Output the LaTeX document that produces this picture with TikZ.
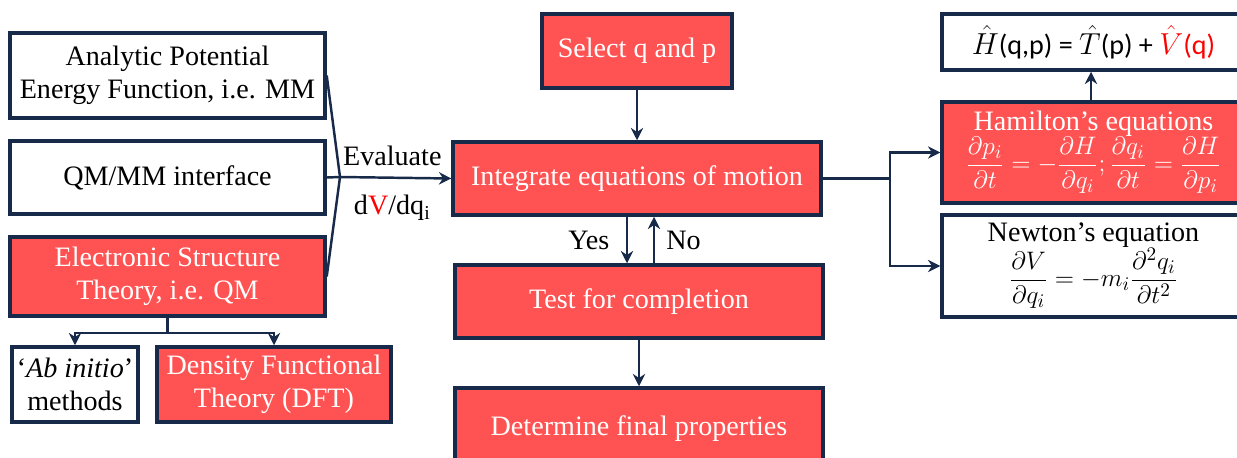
\documentclass[tikz,border=0pt]{standalone}
\usepackage{amsmath}
\usepackage{fontspec}
\setmainfont{Liberation Serif}
\usetikzlibrary{arrows.meta}
\newfontfamily\calfont{Carlito}
\definecolor{boxred}{RGB}{255,82,82}
\definecolor{navy}{RGB}{24,42,74}

\begin{document}
\begin{tikzpicture}[x=0.02cm,y=-0.02cm,
    >={Stealth[length=7pt,width=7pt]},
    txt/.style={font=\fontsize{16}{19}\selectfont},
    box/.style={txt,draw=navy,line width=2pt,align=center,inner sep=1pt},
    wbox/.style={box,fill=white,text=black},
    rbox/.style={box,fill=boxred,text=white},
    link/.style={draw=navy,line width=1.4pt}]

%frame
\useasboundingbox (0,0) rectangle (1237,457);
\clip (0,0) rectangle (1237,457);

%box sizes
\def\wl{6.3cm}
\def\wc{7.36cm}
\def\wr{6.06cm}

%left column
\node[wbox,minimum width=\wl,minimum height=1.7cm]  (ape)  at (167.5,75.5) {Analytic Potential\\Energy Function, i.e. MM};
\node[wbox,minimum width=\wl,minimum height=1.46cm] (qmmm) at (167.5,177.5) {QM/MM interface};
\node[rbox,minimum width=\wl,minimum height=1.58cm] (est)  at (167.5,276.5) {Electronic Structure\\Theory, i.e. QM};
\node[wbox,minimum width=2.52cm,minimum height=1.5cm] (abi) at (75,384.5) {`\textit{Ab initio}'\\methods};
\node[rbox,minimum width=4.68cm,minimum height=1.5cm] (dft) at (274,384.5) {Density Functional\\Theory (DFT)};

%centre column
\node[rbox,minimum width=3.8cm,minimum height=1.48cm] (sel) at (637,51) {Select q and p};
\node[rbox,minimum width=\wc,minimum height=1.46cm] (integ) at (637,178.5) {Integrate equations of motion};
\node[rbox,minimum width=\wc,minimum height=1.46cm] (test)  at (639,301.5) {Test for completion};
\node[rbox,minimum width=\wc,minimum height=1.64cm] (det)   at (639,429) {Determine final properties};

%right column
\node[wbox,minimum width=\wr,minimum height=1.12cm] (hq) at (1093.5,42)
    {$\hat{H}${\calfont(q,p) = }$\hat{T}${\calfont(p) + }\textcolor{red}{$\hat{V}${\calfont(q)}}};
\node[rbox,minimum width=\wr,minimum height=2.02cm] (ham) at (1093.5,152.5)
    {Hamilton's equations\\[-1pt]
     {\fontsize{15}{18}\selectfont$\displaystyle\frac{\partial p_i}{\partial t}=-\frac{\partial H}{\partial q_i};\frac{\partial q_i}{\partial t}=\frac{\partial H}{\partial p_i}$}};
\node[wbox,minimum width=\wr,minimum height=2.04cm] (newt) at (1093.5,266)
    {Newton's equation\\[-1pt]
     {\fontsize{15}{18}\selectfont$\displaystyle\frac{\partial V}{\partial q_i}=-m_i\frac{\partial^2 q_i}{\partial t^2}$}};

%evaluate junction
\coordinate (J) at (340,177);
\draw[link] (ape.east) -- (J);
\draw[link] (est.east) -- (J);
\draw[link,->] (qmmm.east) -- (J) -- (integ.west)
    node[txt,pos=0.47,above=3pt] (evl) {Evaluate}
    node[txt,pos=0.47,below=6pt] (dvdq) {d\textcolor{red}{V}/dq\textsubscript{i}};

%split to methods
\draw[link,->] (est.south) -- ++(0,15) -| (abi.north);
\draw[link,->] (est.south) -- ++(0,15) -| (dft.north);

%main loop
\draw[link,->] (sel.south) -- (integ.north);
\draw[link,->] (integ.south -| 627,0) -- (test.north -| 627,0)
    node[txt,midway,left=6pt] (yes) {Yes};
\draw[link,->] (test.north -| 654,0) -- (integ.south -| 654,0)
    node[txt,midway,right=3pt] (no) {No};
\draw[link,->] (test.south) -- (det.north);

%equations of motion
\draw[link,->] (integ.east) -- ++(67,0) |- (ham.west);
\draw[link,->] (integ.east) -- ++(67,0) |- (newt.west);
\draw[link,->] (ham.north -| 1091,0) -- (hq.south -| 1091,0);

\end{tikzpicture}
\end{document}
